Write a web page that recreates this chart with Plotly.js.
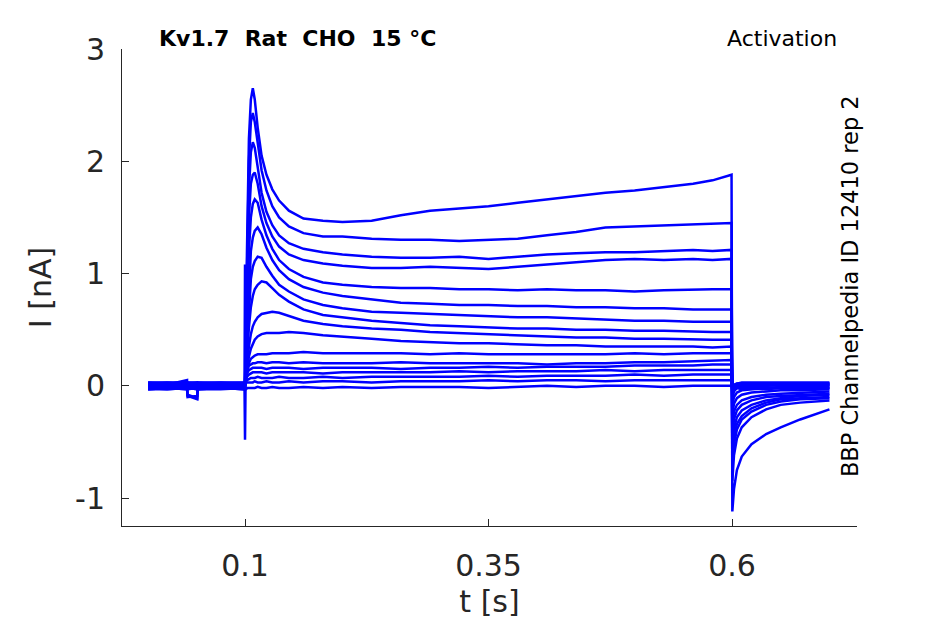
<!DOCTYPE html>
<html>
<head>
<meta charset="utf-8">
<script src="https://cdn.plot.ly/plotly-3.0.1.min.js"></script>
<style>
  body { margin: 0; background: #fff; }
  #chart { width: 945px; height: 624px; }
</style>
</head>
<body>
<div id="chart"></div>
<script>
// time points (s) for the three parts of every sweep
var tBase = [0.0005, 0.02, 0.0405, 0.041, 0.051, 0.0515, 0.075, 0.0995];
var tPulse = [0.1, 0.1005, 0.102, 0.104, 0.106, 0.108, 0.110, 0.113, 0.117, 0.122, 0.128, 0.135, 0.145, 0.16, 0.18,
              0.2, 0.23, 0.26, 0.29, 0.32, 0.35, 0.38, 0.41, 0.44, 0.47, 0.5, 0.53, 0.56, 0.58, 0.5995];
var tTail = [0.6003, 0.602, 0.605, 0.61, 0.62, 0.635, 0.65, 0.67, 0.7];

// current (nA) before the step, one row per sweep
var baseI = [
  [0.02, 0.03, 0.02, 0.02, 0.03, 0.02, 0.03, 0.02],
  [-0.02, -0.03, -0.02, -0.02, -0.03, -0.02, -0.02, -0.03],
  [0.01, 0.0, 0.01, 0.01, 0.0, 0.01, 0.0, 0.01],
  [-0.03, -0.02, -0.03, -0.1, -0.09, -0.03, -0.02, -0.03],
  [0.03, 0.02, 0.03, 0.03, 0.02, 0.03, 0.02, 0.03],
  [0.0, -0.01, 0.0, 0.0, -0.01, 0.0, -0.01, 0.0],
  [-0.01, 0.0, -0.01, -0.01, 0.0, -0.01, 0.0, -0.01],
  [0.02, 0.01, 0.05, -0.08, -0.11, 0.02, 0.01, 0.02],
  [-0.03, -0.03, -0.02, -0.02, -0.03, -0.03, -0.03, -0.02],
  [0.01, 0.02, 0.01, 0.01, 0.02, 0.01, 0.02, 0.01],
  [0.0, 0.0, 0.01, -0.09, -0.12, 0.0, 0.0, 0.0],
  [0.03, 0.03, 0.03, 0.03, 0.03, 0.03, 0.03, 0.03],
  [-0.01, -0.02, -0.01, -0.01, -0.02, -0.01, -0.02, -0.01],
  [0.02, 0.02, 0.01, 0.01, 0.02, 0.02, 0.01, 0.02],
  [-0.02, -0.01, -0.02, -0.02, -0.01, -0.02, -0.01, -0.02],
  [0.01, 0.01, 0.0, 0.0, 0.01, 0.01, 0.0, 0.01],
  [-0.03, -0.02, -0.03, -0.03, -0.02, -0.03, -0.02, -0.03]
];

// current (nA) during the step
var pulseI = [
  [1.08, 0.3, 1.2, 2.2, 2.55, 2.65, 2.55, 2.3, 2.05, 1.88, 1.75, 1.65, 1.56, 1.49, 1.47, 1.46, 1.47, 1.52, 1.56, 1.58, 1.6, 1.63, 1.66, 1.69, 1.72, 1.74, 1.77, 1.8, 1.83, 1.88],
  [0.02, 0.3, 1.1, 2.0, 2.35, 2.43, 2.35, 2.15, 1.92, 1.74, 1.6, 1.5, 1.42, 1.36, 1.33, 1.33, 1.31, 1.30, 1.30, 1.29, 1.30, 1.31, 1.34, 1.37, 1.41, 1.42, 1.43, 1.44, 1.45, 1.45],
  [0.01, 0.25, 0.9, 1.75, 2.08, 2.17, 2.12, 1.95, 1.72, 1.55, 1.43, 1.34, 1.27, 1.22, 1.19, 1.17, 1.15, 1.14, 1.14, 1.15, 1.13, 1.15, 1.17, 1.18, 1.19, 1.19, 1.2, 1.21, 1.2, 1.21],
  [0.0, 0.2, 0.75, 1.5, 1.8, 1.88, 1.9, 1.8, 1.6, 1.45, 1.33, 1.24, 1.17, 1.12, 1.09, 1.07, 1.05, 1.05, 1.06, 1.05, 1.04, 1.06, 1.08, 1.1, 1.12, 1.13, 1.12, 1.13, 1.12, 1.13],
  [0.03, 0.15, 0.6, 1.2, 1.5, 1.62, 1.66, 1.63, 1.48, 1.34, 1.22, 1.12, 1.04, 0.97, 0.92, 0.9, 0.88, 0.87, 0.87, 0.86, 0.86, 0.85, 0.86, 0.85, 0.85, 0.84, 0.85, 0.86, 0.86, 0.86],
  [0.0, 0.12, 0.45, 0.9, 1.2, 1.32, 1.38, 1.41, 1.35, 1.23, 1.12, 1.03, 0.95, 0.88, 0.83, 0.8, 0.77, 0.74, 0.73, 0.72, 0.72, 0.71, 0.71, 0.70, 0.70, 0.69, 0.69, 0.68, 0.68, 0.68],
  [-0.01, 0.1, 0.35, 0.7, 0.95, 1.06, 1.11, 1.15, 1.14, 1.06, 0.98, 0.9, 0.84, 0.77, 0.72, 0.69, 0.66, 0.65, 0.64, 0.63, 0.62, 0.61, 0.61, 0.60, 0.59, 0.58, 0.58, 0.57, 0.57, 0.57],
  [0.02, 0.08, 0.28, 0.52, 0.7, 0.8, 0.86, 0.9, 0.93, 0.92, 0.87, 0.81, 0.75, 0.68, 0.63, 0.61, 0.58, 0.56, 0.54, 0.53, 0.52, 0.51, 0.51, 0.50, 0.50, 0.49, 0.49, 0.48, 0.48, 0.48],
  [-0.03, 0.06, 0.2, 0.35, 0.46, 0.53, 0.57, 0.61, 0.64, 0.65, 0.66, 0.65, 0.62, 0.58, 0.55, 0.53, 0.51, 0.5, 0.48, 0.47, 0.46, 0.45, 0.44, 0.43, 0.43, 0.42, 0.42, 0.41, 0.41, 0.41],
  [0.01, 0.05, 0.15, 0.26, 0.33, 0.38, 0.41, 0.44, 0.46, 0.47, 0.47, 0.47, 0.48, 0.47, 0.45, 0.44, 0.42, 0.4, 0.39, 0.38, 0.38, 0.37, 0.36, 0.36, 0.35, 0.35, 0.35, 0.35, 0.34, 0.35],
  [0.0, 0.04, 0.12, 0.2, 0.24, 0.26, 0.27, 0.28, 0.28, 0.28, 0.29, 0.29, 0.29, 0.3, 0.29, 0.29, 0.29, 0.29, 0.28, 0.29, 0.28, 0.28, 0.28, 0.28, 0.28, 0.29, 0.28, 0.29, 0.29, 0.29],
  [0.03, 0.06, 0.14, 0.18, 0.19, 0.2, 0.2, 0.21, 0.21, 0.2, 0.21, 0.21, 0.2, 0.21, 0.2, 0.2, 0.2, 0.21, 0.2, 0.2, 0.2, 0.2, 0.19, 0.2, 0.2, 0.21, 0.21, 0.22, 0.22, 0.23],
  [-0.01, 0.04, 0.11, 0.14, 0.15, 0.16, 0.16, 0.16, 0.16, 0.15, 0.16, 0.16, 0.16, 0.15, 0.16, 0.16, 0.16, 0.15, 0.16, 0.16, 0.17, 0.16, 0.17, 0.17, 0.17, 0.18, 0.18, 0.18, 0.19, 0.19],
  [0.02, 0.04, 0.08, 0.1, 0.11, 0.12, 0.12, 0.12, 0.12, 0.11, 0.12, 0.12, 0.12, 0.12, 0.11, 0.12, 0.12, 0.12, 0.12, 0.13, 0.12, 0.13, 0.13, 0.13, 0.14, 0.13, 0.14, 0.14, 0.14, 0.14],
  [-0.02, 0.02, 0.05, 0.06, 0.07, 0.07, 0.07, 0.08, 0.07, 0.07, 0.07, 0.08, 0.07, 0.07, 0.08, 0.07, 0.08, 0.08, 0.08, 0.08, 0.09, 0.08, 0.09, 0.09, 0.09, 0.1, 0.09, 0.1, 0.1, 0.1],
  [0.01, 0.02, 0.03, 0.03, 0.03, 0.03, 0.04, 0.03, 0.03, 0.04, 0.03, 0.03, 0.04, 0.03, 0.04, 0.04, 0.03, 0.04, 0.04, 0.04, 0.05, 0.04, 0.05, 0.05, 0.04, 0.05, 0.05, 0.05, 0.05, 0.05],
  [-0.48, -0.04, -0.02, -0.02, -0.02, -0.02, -0.02, -0.01, -0.02, -0.02, -0.01, -0.02, -0.02, -0.01, -0.02, -0.01, -0.02, -0.01, -0.01, -0.01, -0.02, -0.01, 0.0, -0.01, 0.0, 0.0, -0.01, 0.0, 0.0, 0.0]
];

// tail current (nA) after the step
var tailI = [
  [-1.12, -0.92, -0.75, -0.63, -0.52, -0.43, -0.37, -0.30, -0.21],
  [-0.85, -0.62, -0.47, -0.37, -0.28, -0.21, -0.17, -0.15, -0.13],
  [-0.72, -0.52, -0.39, -0.3, -0.23, -0.17, -0.14, -0.12, -0.11],
  [-0.64, -0.46, -0.34, -0.27, -0.2, -0.15, -0.12, -0.11, -0.1],
  [-0.55, -0.38, -0.28, -0.22, -0.17, -0.13, -0.11, -0.09, -0.08],
  [-0.45, -0.3, -0.22, -0.17, -0.13, -0.1, -0.09, -0.08, -0.07],
  [-0.35, -0.23, -0.17, -0.13, -0.1, -0.08, -0.07, -0.06, -0.05],
  [-0.26, -0.16, -0.11, -0.08, -0.06, -0.05, -0.04, -0.04, -0.03],
  [-0.18, -0.1, -0.06, -0.04, -0.03, -0.02, -0.02, -0.01, -0.01],
  [-0.12, -0.05, -0.02, -0.01, 0.0, 0.0, 0.01, 0.0, 0.01],
  [-0.08, -0.02, 0.0, 0.01, 0.01, 0.02, 0.01, 0.02, 0.02],
  [-0.05, 0.0, 0.02, 0.03, 0.03, 0.03, 0.03, 0.03, 0.03],
  [-0.04, -0.01, 0.0, 0.0, 0.01, 0.0, 0.01, 0.0, 0.01],
  [-0.03, 0.01, 0.02, 0.02, 0.02, 0.02, 0.02, 0.02, 0.02],
  [-0.03, -0.02, -0.01, -0.02, -0.01, -0.02, -0.01, -0.01, -0.02],
  [-0.02, 0.0, 0.01, 0.0, 0.01, 0.01, 0.0, 0.01, 0.0],
  [-0.04, -0.03, -0.02, -0.03, -0.02, -0.03, -0.02, -0.03, -0.02]
];

var xTicks = [0.1, 0.35, 0.6];
var xTickText = ['0.1', '0.35', '0.6'];
var yTicks = [-1, 0, 1, 2, 3];
var yTickText = ['-1', '0', '1', '2', '3'];

function makeSweeps(divId){

    var t = tBase.concat(tPulse, tTail);
    var data = [];
    for (var i = 0; i < pulseI.length; i++) {
        data.push({
            x: t,
            y: baseI[i].concat(pulseI[i], tailI[i]),
            type: 'scatter',
            mode: 'lines',
            line: {color: '#0000ff', width: 2.5},
            hoverinfo: 'skip'
        });
    }

    var axisFont = {family: 'DejaVu Sans', size: 30, color: '#262626'};
    var layout = {
        width: 945,
        height: 624,
        margin: {l: 122, r: 88, t: 49, b: 98, pad: 0},
        paper_bgcolor: '#ffffff',
        plot_bgcolor: '#ffffff',
        showlegend: false,
        font: {family: 'DejaVu Sans', color: '#000000'},
        xaxis: {
            range: [-0.0263, 0.7283],
            tickvals: xTicks,
            ticktext: xTickText,
            ticks: 'inside',
            ticklen: 7,
            tickwidth: 1,
            tickcolor: '#262626',
            showline: true,
            linecolor: '#262626',
            linewidth: 1,
            showgrid: false,
            zeroline: false,
            tickfont: axisFont,
            ticklabelstandoff: 13,
            title: {text: 't [s]', font: axisFont, standoff: 8}
        },
        yaxis: {
            range: [-1.249, 3],
            tickvals: yTicks,
            ticktext: yTickText,
            ticks: 'inside',
            ticklen: 7,
            tickwidth: 1,
            tickcolor: '#262626',
            showline: true,
            linecolor: '#262626',
            linewidth: 1,
            showgrid: false,
            zeroline: false,
            tickfont: axisFont,
            ticklabelstandoff: 10,
            title: {text: 'I [nA]', font: axisFont, standoff: 14}
        },
        annotations: [
            {text: '<b>Kv1.7  Rat  CHO  15 °C</b>', xref: 'paper', yref: 'paper', x: 0.048, y: 1.021,
             xanchor: 'left', yanchor: 'middle', showarrow: false, font: {size: 22, color: '#000000'}},
            {text: 'Activation', xref: 'paper', yref: 'paper', x: 0.976, y: 1.021,
             xanchor: 'right', yanchor: 'middle', showarrow: false, font: {size: 22, color: '#000000'}},
            {text: 'BBP Channelpedia ID 12410 rep 2', xref: 'paper', yref: 'paper', x: 0.9905, y: 0.503,
             xanchor: 'center', yanchor: 'middle', textangle: -90, showarrow: false,
             font: {size: 22.5, color: '#000000'}}
        ]
    };
    var config = {responsive: false, displayModeBar: false, staticPlot: true};
    Plotly.newPlot(divId, data, layout, config);

}

makeSweeps('chart');
</script>
</body>
</html>
